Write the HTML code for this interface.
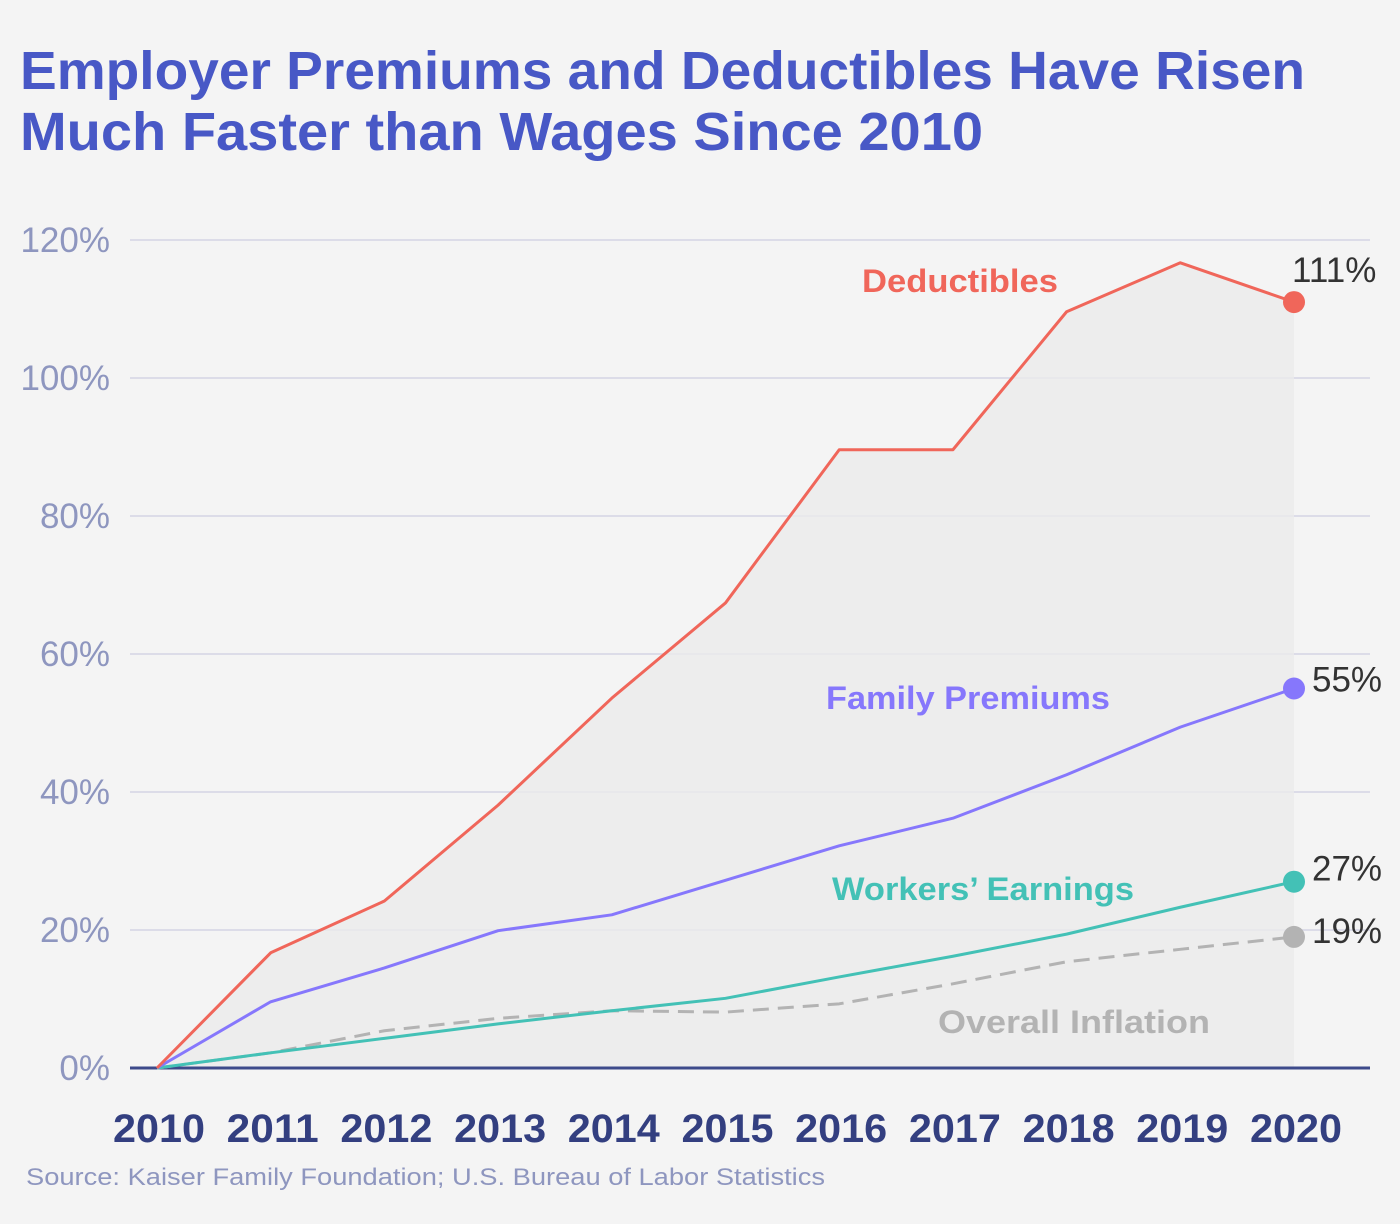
<!DOCTYPE html>
<html><head><meta charset="utf-8">
<style>
html,body{margin:0;padding:0;background:#f4f4f4;}
svg{display:block;font-family:"Liberation Sans",sans-serif;}
</style></head>
<body>
<svg id="chart" width="1400" height="1224" viewBox="0 0 1400 1224">
<rect width="1400" height="1224" fill="#f4f4f4"/>
<text x="20" y="89" font-size="54" font-weight="bold" fill="#4858c6" textLength="1285" lengthAdjust="spacingAndGlyphs">Employer Premiums and Deductibles Have Risen</text>
<text x="20" y="150" font-size="54" font-weight="bold" fill="#4858c6" textLength="963" lengthAdjust="spacingAndGlyphs">Much Faster than Wages Since 2010</text>
<g id="grid"></g>
<g id="area"></g>
<g id="lines"></g>
<g id="labels"></g>
<text x="26" y="1185" font-size="24" fill="#8e96bf" textLength="799" lengthAdjust="spacingAndGlyphs">Source: Kaiser Family Foundation; U.S. Bureau of Labor Statistics</text>
</svg>
<script>
const years = [2010,2011,2012,2013,2014,2015,2016,2017,2018,2019,2020];
const deductibles = [0,16.7,24.2,38.1,53.6,67.4,89.6,89.6,109.6,116.7,111];
const familyPremiums = [0,9.6,14.5,19.9,22.2,27.2,32.2,36.2,42.5,49.4,55];
const workersEarnings = [0,2.2,4.3,6.4,8.3,10.1,13.2,16.2,19.4,23.3,27];
const overallInflation = [0,2.2,5.4,7.2,8.3,8.1,9.3,12.2,15.4,17.2,19];
const yTicks = [0,20,40,60,80,100,120];

const NS='http://www.w3.org/2000/svg';
const X0=157,X1=1294,Y0=1068,Y120=240;
function xs(i){return X0+(X1-X0)*i/(years.length-1);}
function ys(v){return Y0-(Y0-Y120)*v/120;}
function mk(tag,attrs,parent,text){const e=document.createElementNS(NS,tag);for(const k in attrs)e.setAttribute(k,attrs[k]);if(text!==undefined)e.textContent=text;parent.appendChild(e);return e;}
const grid=document.getElementById('grid'),area=document.getElementById('area'),lines=document.getElementById('lines'),labels=document.getElementById('labels');

yTicks.forEach(t=>{
  if(t>0){const l=mk('line',{x1:130,x2:1370,y1:ys(t),y2:ys(t),stroke:'#dcdce8','stroke-width':2},grid);
  
  }
  const tx=mk('text',{x:110,y:ys(t)+12,'text-anchor':'end','font-size':35,fill:'#8e96bf'},grid,t+'%');
  
  
});
years.forEach((y,i)=>{
  const tx=mk('text',{x:xs(i)+2,y:1142,'text-anchor':'middle','font-size':40,'font-weight':'bold',fill:'#333f80',textLength:92,lengthAdjust:'spacingAndGlyphs'},grid,y);
  
  
});

let d='M'+xs(0)+','+ys(0);
deductibles.forEach((v,i)=>{d+=' L'+xs(i)+','+ys(v);});
d+=' L'+xs(years.length-1)+','+Y0+' Z';
const ar=mk('path',{d:d,fill:'#ebebeb',opacity:0.8},area);



const ax=mk('line',{x1:130,x2:1370,y1:Y0,y2:Y0,stroke:'#3d4a8a','stroke-width':3},lines);



function series(vals,color,name,dash,label,lx,ly,lw,ex,eoy){
  const pts=vals.map((v,i)=>xs(i)+','+ys(v)).join(' ');
  const pl=mk('polyline',{points:pts,fill:'none',stroke:color,'stroke-width':3,'stroke-linejoin':'round'},lines);
  if(dash)pl.setAttribute('stroke-dasharray',dash);
  
  
  const last=vals.length-1;
  const c=mk('circle',{cx:xs(last),cy:ys(vals[last]),r:11,fill:color},lines);
  
  
  const t=mk('text',{x:lx,y:ly,'font-size':32,'font-weight':'bold',fill:color,textLength:lw,lengthAdjust:'spacingAndGlyphs'},labels,label);
  
  
  const e=mk('text',{x:ex,y:ys(vals[last])+eoy,'font-size':35,fill:'#333'},labels,Math.round(vals[last])+'%');
  
  
}
series(overallInflation,'#b3b3b3','overall-inflation','16,9','Overall Inflation',938,1033,272,1312,6);
series(workersEarnings,'#43c1b6','workers-earnings',null,'Workers\u2019 Earnings',832,900,302,1312,-1);
series(familyPremiums,'#8677fc','family-premiums',null,'Family Premiums',826,709,284,1312,3);
series(deductibles,'#f0665a','deductibles',null,'Deductibles',862,292,196,1292,-20);
</script>
</body></html>
